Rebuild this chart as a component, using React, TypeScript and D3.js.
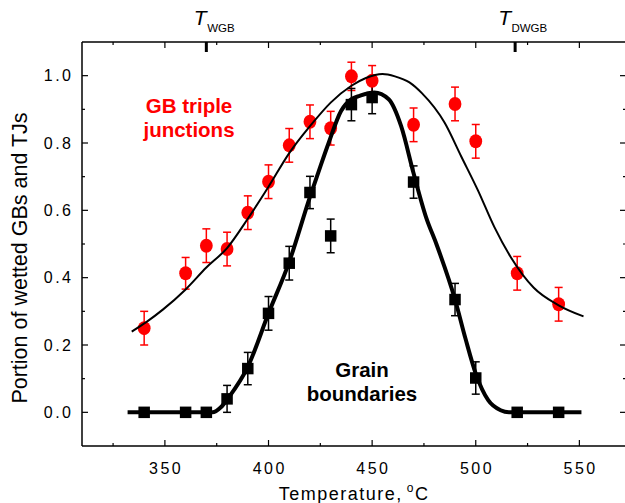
import * as d3 from "d3";

// temperatures of the measured points, °C
const temps = [340, 360, 370, 380, 390, 400, 410, 420, 430, 440, 450, 470, 490, 500, 520, 540];
// grain boundaries (black squares)
const gbValues = [0, 0, 0, 0.04, 0.13, 0.294, 0.443, 0.653, 0.524, 0.914, 0.935, 0.684, 0.335, 0.102, 0, 0];
const gbErrors = [0, 0, 0, 0.04, 0.048, 0.05, 0.05, 0.048, 0.05, 0.048, 0.048, 0.048, 0.048, 0.048, 0, 0];
// GB triple junctions (red circles)
const tjValues = [0.25, 0.413, 0.495, 0.485, 0.593, 0.685, 0.793, 0.863, 0.844, 0.998, 0.985, 0.854, 0.916, 0.805, 0.413, 0.321];
const tjErrors = [0.05, 0.047, 0.05, 0.05, 0.05, 0.05, 0.05, 0.05, 0.05, 0.042, 0.045, 0.05, 0.05, 0.05, 0.05, 0.05];

// fitted curves
const tjFitT = [334, 341, 349, 360, 370, 380, 390, 400, 410, 420, 430, 440, 447, 455, 461, 468, 474, 485, 493, 501, 509, 517, 528, 540, 552];
const tjFitV = [0.24, 0.268, 0.305, 0.365, 0.43, 0.488, 0.575, 0.67, 0.77, 0.85, 0.92, 0.97, 0.993, 1.005, 0.998, 0.98, 0.948, 0.86, 0.76, 0.66, 0.55, 0.46, 0.37, 0.318, 0.285];
const gbFitT = [332, 350, 365, 373, 377, 381, 390, 400, 410, 420, 425, 429, 435, 440, 444, 451, 458, 464, 470, 476, 481, 490, 495, 500, 506, 512, 516, 530, 551];
const gbFitV = [0, 0, 0, 0, 0.015, 0.046, 0.135, 0.294, 0.447, 0.64, 0.73, 0.8, 0.895, 0.93, 0.94, 0.95, 0.93, 0.85, 0.71, 0.58, 0.5, 0.335, 0.22, 0.115, 0.036, 0.006, 0, 0, 0];

// axis ticks
const xMajor = [350, 400, 450, 500, 550];
const xMinor = [325, 375, 425, 475, 525];
const yMajor = [0, 0.2, 0.4, 0.6, 0.8, 1.0];
const yMinor = [0.1, 0.3, 0.5, 0.7, 0.9];

// characteristic temperatures on the top axis
const tMarks = [370, 519];
const tMarkSubs = ["WGB", "DWGB"];

const FONT = "'Liberation Sans', Arial, sans-serif";

export default function App() {
  const width = 625;
  const height = 503;
  const left = 82, right = 626, top = 42, bottom = 446;

  const x = d3.scaleLinear().domain([310, 572.5]).range([left, right]);
  const y = d3.scaleLinear().domain([-0.1, 1.1]).range([bottom, top]);

  const line = d3.line<[number, number]>()
    .x(d => x(d[0]))
    .y(d => y(d[1]))
    .curve(d3.curveMonotoneX);

  const tjFit = tjFitT.map((t, i) => [t, tjFitV[i]] as [number, number]);
  const gbFit = gbFitT.map((t, i) => [t, gbFitV[i]] as [number, number]);

  const cap = 4;

  return (
    <div style={{ position: "absolute", left: 0, top: 0 }}>
      <svg width={width} height={height} style={{ display: "block", background: "#fff" }}>
        {/* frame */}
        <g stroke="#000" strokeWidth={1.5} fill="none">
          <line x1={left} x2={right} y1={top} y2={top} />
          <line x1={left} x2={right} y1={bottom} y2={bottom} />
          <line x1={left} x2={left} y1={top} y2={bottom} />
          <line x1={right} x2={right} y1={top} y2={bottom} />
        </g>

        {/* ticks */}
        <g stroke="#000" strokeWidth={1.2}>
          {xMajor.map(t => (
            <g key={"xM" + t}>
              <line x1={x(t)} x2={x(t)} y1={bottom} y2={bottom - 6} />
              <line x1={x(t)} x2={x(t)} y1={top} y2={top + 6} />
            </g>
          ))}
          {xMinor.map(t => (
            <g key={"xm" + t}>
              <line x1={x(t)} x2={x(t)} y1={bottom} y2={bottom - 3} />
              <line x1={x(t)} x2={x(t)} y1={top} y2={top + 3} />
            </g>
          ))}
          {yMajor.map(v => (
            <g key={"yM" + v}>
              <line x1={left} x2={left + 6} y1={y(v)} y2={y(v)} />
              <line x1={right} x2={right - 6} y1={y(v)} y2={y(v)} />
            </g>
          ))}
          {yMinor.map(v => (
            <g key={"ym" + v}>
              <line x1={left} x2={left + 3} y1={y(v)} y2={y(v)} />
              <line x1={right} x2={right - 3} y1={y(v)} y2={y(v)} />
            </g>
          ))}
        </g>

        {/* tick labels */}
        <g fontFamily={FONT} fontSize={16} fill="#000" letterSpacing={2.5}>
          {xMajor.map(t => (
            <text key={"xl" + t} x={x(t) + 1.25} y={474} textAnchor="middle">{t}</text>
          ))}
          {yMajor.map(v => (
            <text key={"yl" + v} x={73.5} y={y(v) + 5.5} textAnchor="end">{v.toFixed(1)}</text>
          ))}
        </g>

        {/* axis titles */}
        <text x={354} y={500} textAnchor="middle" fontFamily={FONT} fontSize={18} letterSpacing={1.5}>
          Temperature,
          <tspan dx={4} dy={-8} fontSize={12}>o</tspan>
          <tspan dy={8}>C</tspan>
        </text>
        <text
          transform="translate(27,258) rotate(-90)"
          textAnchor="middle"
          fontFamily={FONT}
          fontSize={21.5}
        >
          Portion of wetted GBs and TJs
        </text>

        {/* characteristic temperatures */}
        {tMarks.map((t, i) => (
          <g key={"tm" + t}>
            <line x1={x(t)} x2={x(t)} y1={top} y2={top + 10} stroke="#000" strokeWidth={3} />
            <text x={x(t) - (i === 0 ? 12.5 : 17)} y={25} fontFamily={FONT}>
              <tspan fontSize={21} fontStyle="italic">T</tspan>
              <tspan dx={0.5} dy={7} fontSize={11.5}>{tMarkSubs[i]}</tspan>
            </text>
          </g>
        ))}

        {/* error bars */}
        <g stroke="#ff0000" strokeWidth={1.5}>
          {temps.map((t, i) => {
            const e = tjErrors[i];
            if (!e) return null;
            const cx = x(t);
            return (
              <g key={"te" + t}>
                <line x1={cx} x2={cx} y1={y(tjValues[i] + e)} y2={y(tjValues[i] - e)} />
                <line x1={cx - cap} x2={cx + cap} y1={y(tjValues[i] + e)} y2={y(tjValues[i] + e)} />
                <line x1={cx - cap} x2={cx + cap} y1={y(tjValues[i] - e)} y2={y(tjValues[i] - e)} />
              </g>
            );
          })}
        </g>
        <g stroke="#000" strokeWidth={1.5}>
          {temps.map((t, i) => {
            const e = gbErrors[i];
            if (!e) return null;
            const cx = x(t);
            return (
              <g key={"ge" + t}>
                <line x1={cx} x2={cx} y1={y(gbValues[i] + e)} y2={y(gbValues[i] - e)} />
                <line x1={cx - cap} x2={cx + cap} y1={y(gbValues[i] + e)} y2={y(gbValues[i] + e)} />
                <line x1={cx - cap} x2={cx + cap} y1={y(gbValues[i] - e)} y2={y(gbValues[i] - e)} />
              </g>
            );
          })}
        </g>

        {/* markers */}
        <g fill="#ff0000">
          {temps.map((t, i) => (
            <ellipse key={"tc" + t} cx={x(t)} cy={y(tjValues[i])} rx={6.4} ry={7} />
          ))}
        </g>
        <g fill="#000">
          {temps.map((t, i) => (
            <rect key={"gs" + t} x={x(t) - 5.75} y={y(gbValues[i]) - 5.75} width={11.5} height={11.5} />
          ))}
        </g>

        {/* fits */}
        <path d={line(tjFit) ?? ""} fill="none" stroke="#000" strokeWidth={2} />
        <path d={line(gbFit) ?? ""} fill="none" stroke="#000" strokeWidth={4} />

        {/* in-plot labels */}
        <g fontFamily={FONT} fontSize={20.5} fontWeight="bold" textAnchor="middle">
          <text x={189} y={113} fill="#ff0000">GB triple</text>
          <text x={189} y={137} fill="#ff0000">junctions</text>
          <text x={362} y={377} fill="#000">Grain</text>
          <text x={362} y={401} fill="#000">boundaries</text>
        </g>
      </svg>
    </div>
  );
}
